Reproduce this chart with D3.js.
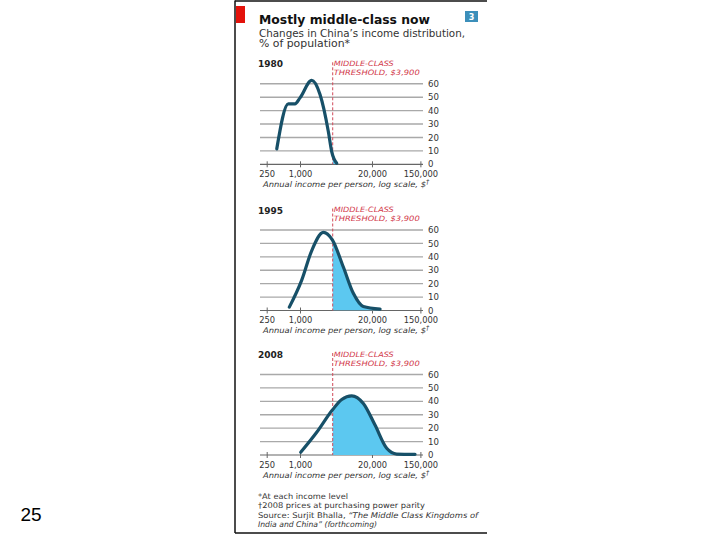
<!DOCTYPE html>
<html><head><meta charset="utf-8">
<script src="https://cdn.jsdelivr.net/npm/d3@7/dist/d3.min.js"></script>
<style>html,body{margin:0;padding:0;background:#fff;}svg{display:block;}</style>
</head><body>
<svg id="c" width="720" height="540"></svg>
<script>
// ---- data ----
const years = ["1980", "1995", "2008"];
const incomes1980 = [380, 614, 812, 1000, 1630, 2300, 3250, 3740, 4610];
const values1980  = [11.5, 45, 45, 49.5, 62.5, 52, 24.5, 9.5, 0.8];
const incomes1995 = [641, 1074, 1630, 2640, 3840, 6070, 9200, 13960, 28000];
const values1995  = [2.5, 22.6, 44.7, 58.2, 52.6, 32.4, 12.8, 3, 1];
const incomes2008 = [1030, 2005, 3840, 5680, 8610, 13960, 22700, 36900, 56000, 120000];
const values2008  = [2, 16.9, 33.5, 41.4, 44.1, 38.4, 22.3, 5, 0.7, 0.5];
const xTicks = [250, 1000, 20000, 150000];
const xTickLabels = ["250", "1,000", "20,000", "150,000"];
const yTicks = [0, 10, 20, 30, 40, 50, 60];
const threshold = 3900;

const series = [
  {year: years[0], inc: incomes1980, val: values1980},
  {year: years[1], inc: incomes1995, val: values1995},
  {year: years[2], inc: incomes2008, val: values2008}
];

const svg = d3.select("#c");
const font = "'DejaVu Sans', Verdana, sans-serif";

// frame
svg.append("line").attr("x1", 235).attr("x2", 235).attr("y1", 0.5).attr("y2", 533).attr("stroke", "#111").attr("stroke-width", 1.5);
svg.append("line").attr("x1", 235).attr("x2", 487).attr("y1", 1).attr("y2", 1).attr("stroke", "#111").attr("stroke-width", 1.5);
svg.append("line").attr("x1", 235).attr("x2", 487).attr("y1", 533).attr("y2", 533).attr("stroke", "#111").attr("stroke-width", 1.5);
svg.append("rect").attr("x", 236).attr("y", 6).attr("width", 9).attr("height", 17).attr("fill", "#e3120b");
svg.append("rect").attr("x", 465).attr("y", 11).attr("width", 13).attr("height", 11).attr("fill", "#3c8fba");
svg.append("text").attr("x", 471.5).attr("y", 20).attr("text-anchor", "middle").attr("fill", "#fff")
  .attr("font-family", font).attr("font-size", 8).attr("font-weight", "bold").text("3");

// titles
svg.append("text").attr("x", 259).attr("y", 24).attr("font-family", font).attr("font-size", 12.5)
  .attr("font-weight", "bold").attr("fill", "#111").attr("textLength", 171).attr("lengthAdjust", "spacingAndGlyphs")
  .text("Mostly middle-class now");
svg.append("text").attr("x", 259).attr("y", 36.5).attr("font-family", font).attr("font-size", 10)
  .attr("fill", "#333").attr("textLength", 206).attr("lengthAdjust", "spacingAndGlyphs")
  .text("Changes in China’s income distribution,");
svg.append("text").attr("x", 259).attr("y", 47).attr("font-family", font).attr("font-size", 10)
  .attr("fill", "#333").attr("textLength", 91).attr("lengthAdjust", "spacingAndGlyphs").text("% of population*");

// scales
const x = d3.scaleLog().domain([250, 150000]).range([266.7, 420.4]);
const baselines = [164.3, 310.5, 455];
const gridX0 = 260, gridX1 = 423;

series.forEach((s, i) => {
  const b = baselines[i];
  const y = d3.scaleLinear().domain([0, 60]).range([b, b - 80.5]);
  const g = svg.append("g");

  // gridlines
  g.selectAll("line.grid").data(yTicks.filter(t => t > 0)).join("line")
    .attr("x1", gridX0).attr("x2", gridX1).attr("y1", d => y(d)).attr("y2", d => y(d))
    .attr("stroke", "#a9a9a9").attr("stroke-width", 1.4);

  // right axis labels
  const yAxis = d3.axisRight(y).tickValues(yTicks).tickSize(0).tickPadding(0);
  const ya = g.append("g").attr("transform", `translate(${gridX1 + 5},0)`).call(yAxis);
  ya.select(".domain").remove();
  ya.selectAll("text").attr("font-family", font).attr("font-size", 8.6).attr("fill", "#333").attr("dy", "0.3em");

  // x axis
  const xAxis = d3.axisBottom(x).tickValues(xTicks).tickFormat((d, k) => xTickLabels[k]).tickSize(3).tickPadding(4);
  const xa = g.append("g").attr("transform", `translate(0,${b})`).call(xAxis);
  xa.select(".domain").attr("d", `M${gridX0},0H${gridX1}`).attr("stroke", "#666").attr("stroke-width", 1.2);
  xa.selectAll(".tick line").attr("y1", -3).attr("y2", 3).attr("stroke", "#666");
  xa.selectAll("text").attr("font-family", font).attr("font-size", 8.3).attr("fill", "#333");

  // axis title
  const at = g.append("text").attr("x", 263).attr("y", b + 22.5)
    .attr("font-family", font).attr("font-size", 7.8).attr("font-style", "italic").attr("fill", "#333");
  at.append("tspan").attr("textLength", 163).attr("lengthAdjust", "spacingAndGlyphs").text("Annual income per person, log scale, $");
  at.append("tspan").attr("dy", -3).attr("font-size", 6.5).text("†");

  // year label
  g.append("text").attr("x", 258).attr("y", b - 97).attr("font-family", font).attr("font-size", 9)
    .attr("font-weight", "bold").attr("fill", "#222").text(s.year);

  // data
  const pts = s.inc.map((v, k) => [v, s.val[k]]);
  const clipId = "clip" + i;
  g.append("clipPath").attr("id", clipId).append("rect")
    .attr("x", x(threshold)).attr("y", b - 100).attr("width", gridX1 - x(threshold)).attr("height", 100);
  const area = d3.area().x(d => x(d[0])).y0(b).y1(d => y(d[1])).curve(d3.curveMonotoneX);
  g.append("path").datum(pts).attr("d", area).attr("fill", "#5cc8f0").attr("clip-path", `url(#${clipId})`);

  // threshold line
  g.append("line").attr("x1", x(threshold)).attr("x2", x(threshold)).attr("y1", b - 102).attr("y2", b)
    .attr("stroke", "#d04a5a").attr("stroke-width", 1).attr("stroke-dasharray", "3,2");
  g.append("text").attr("x", x(threshold) + 1).attr("y", b - 98.5).attr("font-family", font).attr("font-size", 7.3)
    .attr("font-style", "italic").attr("fill", "#d2384a").attr("textLength", 60).attr("lengthAdjust", "spacingAndGlyphs")
    .text("MIDDLE-CLASS");
  g.append("text").attr("x", x(threshold) + 1).attr("y", b - 89.5).attr("font-family", font).attr("font-size", 7.3)
    .attr("font-style", "italic").attr("fill", "#d2384a").attr("textLength", 86).attr("lengthAdjust", "spacingAndGlyphs")
    .text("THRESHOLD, $3,900");

  const line = d3.line().x(d => x(d[0])).y(d => y(d[1])).curve(d3.curveMonotoneX);
  g.append("path").datum(pts).attr("d", line).attr("fill", "none").attr("stroke", "#175068")
    .attr("stroke-width", 3.2).attr("stroke-linecap", "round").attr("stroke-linejoin", "round");
});

// footnotes
const fs = 7.8;
svg.append("text").attr("x", 258).attr("y", 499).attr("font-family", font).attr("font-size", fs)
  .attr("fill", "#333").attr("textLength", 90).attr("lengthAdjust", "spacingAndGlyphs").text("*At each income level");
svg.append("text").attr("x", 258).attr("y", 507.5).attr("font-family", font).attr("font-size", fs)
  .attr("fill", "#333").attr("textLength", 167).attr("lengthAdjust", "spacingAndGlyphs").text("†2008 prices at purchasing power parity");
const s1 = svg.append("text").attr("x", 258).attr("y", 518).attr("font-family", font).attr("font-size", fs).attr("fill", "#333")
  .attr("textLength", 220).attr("lengthAdjust", "spacingAndGlyphs");
s1.append("tspan").text("Source: Surjit Bhalla, ");
s1.append("tspan").attr("font-style", "italic").text("“The Middle Class Kingdoms of");
svg.append("text").attr("x", 258).attr("y", 526.5).attr("font-family", font).attr("font-size", fs).attr("fill", "#333")
  .attr("font-style", "italic").attr("textLength", 119).attr("lengthAdjust", "spacingAndGlyphs")
  .text("India and China” (forthcoming)");

// slide number
svg.append("text").attr("x", 31).attr("y", 521).attr("text-anchor", "middle")
  .attr("font-family", "'Liberation Sans', Arial, sans-serif").attr("font-size", 19).attr("fill", "#000").text("25");
</script>
</body></html>
